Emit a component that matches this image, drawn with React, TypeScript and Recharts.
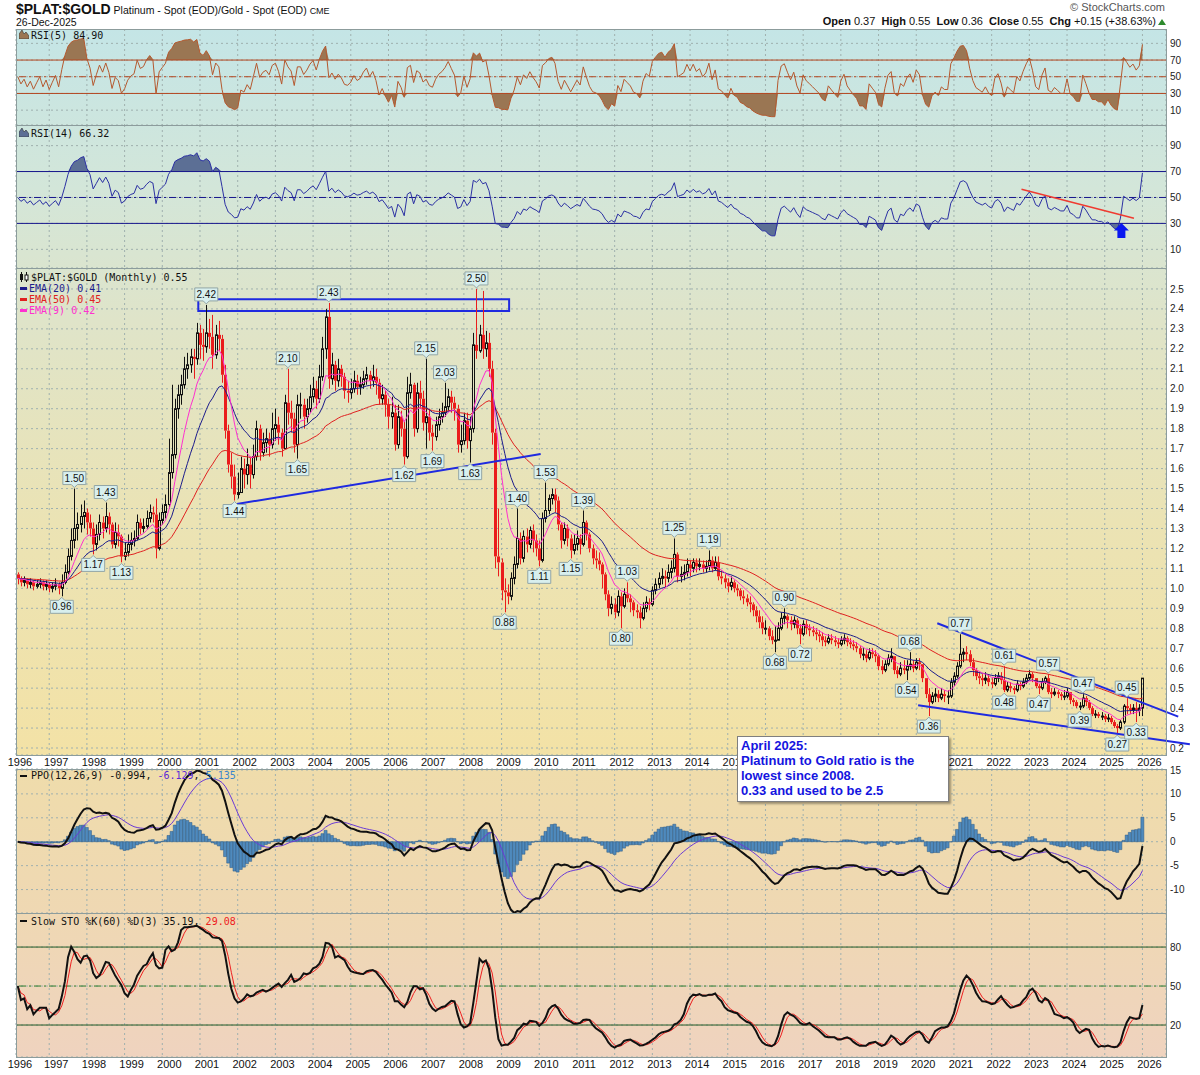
import {
  ComposedChart, Bar, Line, Area, XAxis, YAxis, CartesianGrid,
  ReferenceLine, ReferenceArea, ReferenceDot,
} from 'recharts';

// Monthly ratio, one row per year. 1996 starts in February.
const closesByYear: number[][] = [
  [1.05, 1.03, 1.04, 1.02, 1.03, 1.01, 1.02, 1.03, 1.01, 1.02, 1.00],
  [1.01, 1.02, 1.00, 1.03, 1.08, 1.16, 1.24, 1.30, 1.32, 1.36, 1.38, 1.33],
  [1.30, 1.22, 1.27, 1.33, 1.30, 1.36, 1.32, 1.22, 1.28, 1.26, 1.16, 1.18],
  [1.22, 1.24, 1.25, 1.33, 1.30, 1.31, 1.35, 1.38, 1.37, 1.20, 1.34, 1.38],
  [1.42, 1.58, 1.67, 1.90, 1.97, 2.02, 2.10, 2.12, 2.16, 2.15, 2.28, 2.22],
  [2.21, 2.28, 2.26, 2.17, 2.27, 2.25, 2.07, 1.79, 1.62, 1.56, 1.47, 1.48],
  [1.60, 1.57, 1.62, 1.57, 1.66, 1.80, 1.68, 1.73, 1.75, 1.72, 1.80, 1.82],
  [1.78, 1.70, 1.93, 1.88, 1.85, 1.72, 1.92, 1.92, 1.86, 1.90, 1.96, 2.00],
  [1.95, 2.06, 2.20, 2.36, 2.05, 2.12, 2.04, 2.10, 2.06, 1.99, 1.98, 2.00],
  [2.04, 2.01, 2.02, 2.05, 2.07, 2.04, 2.06, 2.03, 1.95, 1.97, 1.92, 1.86],
  [1.88, 1.72, 1.86, 1.80, 1.66, 1.98, 2.02, 1.80, 1.98, 1.95, 1.83, 1.86],
  [1.78, 1.76, 1.82, 1.86, 1.88, 1.91, 1.96, 1.93, 1.90, 1.72, 1.74, 1.84],
  [1.74, 1.80, 2.22, 2.19, 2.27, 2.20, 2.23, 2.10, 1.78, 1.16, 1.13, 0.99],
  [0.98, 0.96, 1.05, 1.12, 1.25, 1.15, 1.26, 1.22, 1.29, 1.24, 1.20, 1.14],
  [1.35, 1.39, 1.45, 1.47, 1.44, 1.32, 1.24, 1.30, 1.25, 1.19, 1.22, 1.25],
  [1.22, 1.33, 1.27, 1.20, 1.15, 1.14, 1.12, 1.07, 0.97, 0.90, 0.92, 0.88],
  [0.96, 0.91, 0.97, 0.95, 0.93, 0.89, 0.88, 0.85, 0.90, 0.93, 0.92, 0.99],
  [1.02, 1.05, 1.06, 1.05, 1.08, 1.10, 1.17, 1.06, 1.07, 1.08, 1.12, 1.10],
  [1.13, 1.11, 1.12, 1.10, 1.11, 1.14, 1.10, 1.13, 1.06, 1.05, 1.03, 1.01],
  [1.03, 1.00, 0.99, 0.96, 0.95, 0.93, 0.92, 0.89, 0.86, 0.83, 0.80, 0.80],
  [0.76, 0.74, 0.74, 0.80, 0.85, 0.86, 0.84, 0.82, 0.84, 0.80, 0.77, 0.82],
  [0.80, 0.79, 0.78, 0.77, 0.76, 0.74, 0.73, 0.75, 0.74, 0.73, 0.72, 0.74],
  [0.75, 0.73, 0.72, 0.71, 0.70, 0.67, 0.67, 0.65, 0.68, 0.67, 0.66, 0.61],
  [0.59, 0.62, 0.65, 0.66, 0.59, 0.57, 0.60, 0.59, 0.61, 0.62, 0.60, 0.63],
  [0.62, 0.55, 0.47, 0.43, 0.46, 0.47, 0.45, 0.47, 0.46, 0.46, 0.53, 0.56],
  [0.61, 0.67, 0.68, 0.67, 0.63, 0.59, 0.56, 0.55, 0.54, 0.55, 0.53, 0.52],
  [0.55, 0.56, 0.54, 0.49, 0.51, 0.50, 0.49, 0.52, 0.51, 0.53, 0.55, 0.57],
  [0.55, 0.51, 0.50, 0.53, 0.55, 0.48, 0.47, 0.48, 0.47, 0.46, 0.46, 0.48],
  [0.44, 0.43, 0.41, 0.41, 0.45, 0.43, 0.40, 0.37, 0.37, 0.36, 0.36, 0.345],
  [0.35, 0.33, 0.31, 0.30, 0.33, 0.41, 0.40, 0.39, 0.40, 0.39, 0.40, 0.55],
];

const highsByYear: number[][] = [
  [1.08, 1.06, 1.06, 1.05, 1.05, 1.04, 1.04, 1.05, 1.04, 1.04, 1.03],
  [1.03, 1.05, 1.03, 1.07, 1.12, 1.20, 1.30, 1.50, 1.38, 1.42, 1.44, 1.40],
  [1.37, 1.33, 1.32, 1.37, 1.36, 1.43, 1.38, 1.33, 1.33, 1.32, 1.27, 1.23],
  [1.27, 1.28, 1.29, 1.37, 1.35, 1.35, 1.39, 1.42, 1.41, 1.45, 1.38, 1.42],
  [1.47, 1.75, 2.02, 1.95, 2.02, 2.07, 2.16, 2.18, 2.20, 2.20, 2.33, 2.32],
  [2.30, 2.42, 2.35, 2.37, 2.32, 2.34, 2.27, 2.12, 1.82, 1.68, 1.62, 1.58],
  [1.66, 1.65, 1.70, 1.66, 1.72, 1.84, 1.82, 1.78, 1.80, 1.78, 1.88, 1.90],
  [1.86, 1.80, 1.97, 2.10, 1.94, 1.88, 1.97, 1.98, 1.95, 1.95, 2.02, 2.06],
  [2.04, 2.12, 2.26, 2.40, 2.43, 2.18, 2.14, 2.15, 2.12, 2.08, 2.04, 2.05],
  [2.09, 2.07, 2.06, 2.09, 2.11, 2.09, 2.12, 2.10, 2.05, 2.02, 1.99, 1.95],
  [1.96, 1.92, 1.92, 1.89, 1.84, 2.06, 2.08, 2.03, 2.03, 2.04, 1.99, 2.15],
  [1.90, 1.82, 1.86, 1.90, 1.93, 2.03, 2.00, 1.99, 1.96, 1.92, 1.82, 1.88],
  [1.88, 1.86, 2.28, 2.50, 2.32, 2.49, 2.29, 2.28, 2.14, 1.80, 1.40, 1.15],
  [1.05, 1.02, 1.08, 1.16, 1.40, 1.28, 1.29, 1.30, 1.31, 1.32, 1.27, 1.24],
  [1.38, 1.53, 1.47, 1.50, 1.50, 1.46, 1.33, 1.33, 1.32, 1.27, 1.27, 1.29],
  [1.27, 1.39, 1.34, 1.28, 1.22, 1.19, 1.18, 1.13, 1.08, 0.99, 0.96, 0.95],
  [0.99, 0.98, 1.00, 1.03, 0.97, 0.94, 0.92, 0.91, 0.93, 0.96, 0.95, 1.01],
  [1.05, 1.08, 1.10, 1.09, 1.12, 1.14, 1.25, 1.18, 1.11, 1.12, 1.15, 1.14],
  [1.15, 1.15, 1.15, 1.14, 1.14, 1.19, 1.16, 1.16, 1.16, 1.09, 1.07, 1.05],
  [1.06, 1.04, 1.02, 1.00, 0.99, 0.97, 0.96, 0.93, 0.91, 0.89, 0.86, 0.84],
  [0.81, 0.79, 0.81, 0.83, 0.88, 0.90, 0.87, 0.86, 0.86, 0.85, 0.82, 0.84],
  [0.84, 0.82, 0.81, 0.80, 0.79, 0.78, 0.76, 0.77, 0.77, 0.76, 0.75, 0.76],
  [0.77, 0.76, 0.75, 0.74, 0.73, 0.71, 0.70, 0.69, 0.70, 0.70, 0.69, 0.67],
  [0.64, 0.64, 0.67, 0.70, 0.66, 0.61, 0.63, 0.64, 0.64, 0.68, 0.64, 0.65],
  [0.65, 0.62, 0.55, 0.50, 0.48, 0.50, 0.49, 0.50, 0.49, 0.49, 0.55, 0.58],
  [0.63, 0.77, 0.70, 0.71, 0.69, 0.65, 0.60, 0.58, 0.57, 0.58, 0.57, 0.55],
  [0.57, 0.58, 0.58, 0.61, 0.53, 0.53, 0.51, 0.54, 0.53, 0.55, 0.57, 0.59],
  [0.58, 0.55, 0.52, 0.55, 0.56, 0.57, 0.50, 0.50, 0.49, 0.48, 0.49, 0.50],
  [0.48, 0.45, 0.44, 0.43, 0.47, 0.46, 0.44, 0.41, 0.39, 0.38, 0.38, 0.37],
  [0.37, 0.36, 0.34, 0.32, 0.34, 0.42, 0.45, 0.42, 0.42, 0.43, 0.42, 0.55],
];

const lowsByYear: number[][] = [
  [1.02, 1.01, 1.01, 1.00, 1.00, 0.99, 1.00, 1.00, 0.99, 0.99, 0.98],
  [0.98, 0.99, 0.97, 0.96, 1.02, 1.07, 1.14, 1.20, 1.24, 1.28, 1.30, 1.27],
  [1.26, 1.17, 1.19, 1.24, 1.25, 1.28, 1.27, 1.20, 1.20, 1.21, 1.13, 1.14],
  [1.16, 1.19, 1.21, 1.24, 1.27, 1.28, 1.30, 1.33, 1.33, 1.15, 1.19, 1.32],
  [1.35, 1.40, 1.55, 1.65, 1.85, 1.92, 2.00, 2.05, 2.08, 2.05, 2.12, 2.15],
  [2.14, 2.18, 2.20, 2.10, 2.15, 2.19, 2.03, 1.75, 1.58, 1.50, 1.44, 1.45],
  [1.48, 1.50, 1.52, 1.50, 1.55, 1.64, 1.64, 1.66, 1.68, 1.66, 1.70, 1.74],
  [1.72, 1.66, 1.70, 1.82, 1.78, 1.68, 1.65, 1.85, 1.80, 1.83, 1.88, 1.93],
  [1.90, 1.93, 2.04, 2.15, 2.00, 2.02, 1.99, 2.01, 2.01, 1.95, 1.93, 1.95],
  [1.98, 1.97, 1.97, 2.00, 2.02, 2.00, 2.01, 1.97, 1.92, 1.92, 1.86, 1.80],
  [1.80, 1.69, 1.70, 1.76, 1.62, 1.65, 1.95, 1.76, 1.78, 1.90, 1.79, 1.70],
  [1.74, 1.69, 1.74, 1.79, 1.83, 1.86, 1.89, 1.88, 1.84, 1.68, 1.68, 1.72],
  [1.70, 1.63, 1.78, 2.15, 2.18, 2.15, 2.16, 2.06, 1.72, 1.10, 1.06, 0.94],
  [0.88, 0.92, 0.94, 1.02, 1.10, 1.12, 1.13, 1.18, 1.20, 1.18, 1.16, 1.11],
  [1.13, 1.33, 1.37, 1.42, 1.38, 1.29, 1.20, 1.22, 1.21, 1.15, 1.17, 1.19],
  [1.17, 1.21, 1.24, 1.18, 1.12, 1.10, 1.09, 1.00, 0.94, 0.86, 0.87, 0.85],
  [0.86, 0.80, 0.90, 0.93, 0.88, 0.86, 0.85, 0.80, 0.84, 0.88, 0.89, 0.91],
  [0.97, 1.00, 1.02, 1.00, 1.03, 1.05, 1.08, 1.03, 1.03, 1.04, 1.06, 1.06],
  [1.08, 1.08, 1.09, 1.08, 1.08, 1.09, 1.08, 1.09, 1.04, 1.02, 1.00, 0.98],
  [0.99, 0.98, 0.96, 0.94, 0.92, 0.91, 0.88, 0.86, 0.83, 0.80, 0.77, 0.77],
  [0.74, 0.72, 0.68, 0.74, 0.79, 0.82, 0.80, 0.79, 0.80, 0.77, 0.72, 0.76],
  [0.77, 0.76, 0.76, 0.74, 0.73, 0.71, 0.71, 0.72, 0.72, 0.71, 0.70, 0.71],
  [0.72, 0.71, 0.70, 0.69, 0.68, 0.65, 0.64, 0.63, 0.64, 0.65, 0.63, 0.59],
  [0.57, 0.58, 0.61, 0.63, 0.57, 0.55, 0.56, 0.57, 0.54, 0.59, 0.58, 0.59],
  [0.59, 0.53, 0.45, 0.36, 0.42, 0.43, 0.43, 0.44, 0.43, 0.42, 0.45, 0.51],
  [0.55, 0.60, 0.63, 0.64, 0.61, 0.56, 0.54, 0.52, 0.51, 0.52, 0.51, 0.50],
  [0.51, 0.53, 0.52, 0.48, 0.48, 0.48, 0.47, 0.48, 0.49, 0.50, 0.52, 0.54],
  [0.53, 0.50, 0.47, 0.49, 0.52, 0.47, 0.45, 0.46, 0.45, 0.44, 0.44, 0.45],
  [0.42, 0.41, 0.40, 0.39, 0.40, 0.41, 0.39, 0.36, 0.35, 0.35, 0.34, 0.33],
  [0.33, 0.32, 0.30, 0.27, 0.29, 0.32, 0.37, 0.37, 0.37, 0.33, 0.36, 0.36],
];

const FIRST_OPEN = 1.07;
const FIRST_MONTH = 2; // Feb 1996, counting Jan 1996 as month 1

// price callouts [month, value]
const highCallouts: [number, number][] = [
  [20, 1.50], [30, 1.43], [62, 2.42], [88, 2.10], [101, 2.43], [132, 2.15], [138, 2.03],
  [148, 2.50], [161, 1.40], [170, 1.53], [182, 1.39], [196, 1.03], [211, 1.25], [222, 1.19],
  [246, 0.90], [286, 0.68], [302, 0.77], [316, 0.61], [330, 0.57], [341, 0.47], [355, 0.45],
];
const lowCallouts: [number, number][] = [
  [16, 0.96], [26, 1.17], [35, 1.13], [71, 1.44], [91, 1.65], [125, 1.62], [134, 1.69],
  [146, 1.63], [157, 0.88], [168, 1.11], [178, 1.15], [194, 0.80], [243, 0.68], [251, 0.72],
  [285, 0.54], [292, 0.36], [316, 0.48], [327, 0.47], [340, 0.39], [352, 0.27], [358, 0.33],
];

const yearTicks = [1.43, 12, 24, 36, 48, 60, 72, 84, 96, 108, 120, 132, 144, 156, 168, 180,
  192, 204, 216, 228, 240, 252, 264, 276, 288, 300, 312, 324, 336, 348, 360];
const yearLabels = ['1996', '1997', '1998', '1999', '2000', '2001', '2002', '2003', '2004', '2005',
  '2006', '2007', '2008', '2009', '2010', '2011', '2012', '2013', '2014', '2015', '2016', '2017',
  '2018', '2019', '2020', '2021', '2022', '2023', '2024', '2025', '2026'];
const priceTicks = [0.2, 0.3, 0.4, 0.5, 0.6, 0.7, 0.8, 0.9, 1.0, 1.1, 1.2, 1.3, 1.4, 1.5, 1.6,
  1.7, 1.8, 1.9, 2.0, 2.1, 2.2, 2.3, 2.4, 2.5];
const rsiTicks = [10, 30, 50, 70, 90];
const ppoTicks = [-10, -5, 0, 5, 10, 15];
const stoTicks = [20, 50, 80];

const X_DOMAIN: [number, number] = [1.43, 367.5];

// ---- indicators ----
const ema = (src: number[], n: number) => {
  const k = 2 / (n + 1);
  let prev = src[0];
  return src.map((v, i) => (i === 0 ? v : (prev = v * k + prev * (1 - k))));
};
const sma = (src: number[], n: number) =>
  src.map((_, i) => {
    const s = src.slice(Math.max(0, i - n + 1), i + 1);
    return s.reduce((a, b) => a + b, 0) / s.length;
  });
// Wilder RSI, warmed up from a neutral state
const rsi = (src: number[], n: number) => {
  let ag = 0.012;
  let al = 0.012;
  return src.map((v, i) => {
    if (i === 0) return 50;
    const ch = v - src[i - 1];
    ag = (ag * (n - 1) + Math.max(ch, 0)) / n;
    al = (al * (n - 1) + Math.max(-ch, 0)) / n;
    return al === 0 ? 100 : 100 - 100 / (1 + ag / al);
  });
};

const closes = closesByYear.flat();
const highs = highsByYear.flat();
const lows = lowsByYear.flat();

const e9 = ema(closes, 9);
const e20 = ema(closes, 20);
const e50 = ema(closes, 50);
const r5 = rsi(closes, 5);
const r14 = rsi(closes, 14);
const e12 = ema(closes, 12);
const e26 = ema(closes, 26);
const ppo = closes.map((_, i) => ((e12[i] - e26[i]) / e26[i]) * 100);
const sig = ema(ppo, 9);
const fastK = closes.map((c, i) => {
  const from = Math.max(0, i - 59);
  const hh = Math.max(...highs.slice(from, i + 1));
  const ll = Math.min(...lows.slice(from, i + 1));
  return hh === ll ? 50 : ((c - ll) / (hh - ll)) * 100;
});
const slowK = sma(fastK, 3);
const slowD = sma(slowK, 3);

const rows = closes.map((c, i) => {
  const o = i === 0 ? FIRST_OPEN : closes[i - 1];
  const h = Math.max(highs[i], o, c);
  const l = Math.min(lows[i], o, c);
  return {
    p: FIRST_MONTH + i, o, c, h, l, range: [l, h],
    ema9: e9[i], ema20: e20[i], ema50: e50[i],
    rsi5: r5[i], rsi5Hi: [70, Math.max(70, r5[i])], rsi5Lo: [Math.min(30, r5[i]), 30],
    rsi14: r14[i], rsi14Hi: [70, Math.max(70, r14[i])], rsi14Lo: [Math.min(30, r14[i]), 30],
    ppo: ppo[i], sig: sig[i], hist: ppo[i] - sig[i],
    k: slowK[i], d: slowD[i],
  };
});

// ---- styling ----
const FONT = '"Liberation Sans", Arial, sans-serif';
const MONO = '"DejaVu Sans Mono", monospace';
const GRID = '#9fb0ae';
const BLUE = '#1f2ae0';
const MARGIN = { top: 0, right: 0, bottom: 0, left: 16 };
const TICK = { fontSize: 10, fill: '#222', fontFamily: FONT };
const NOTE_BOX = { left: 737, top: 736, width: 212, height: 66 };

const Candle = (props: any) => {
  const { x, y, width, height, payload } = props;
  if (x == null || !payload) return null;
  const top = Math.min(y, y + height);
  const span = Math.abs(height);
  const { o, c, h, l } = payload;
  const toY = (v: number) => (h === l ? top : top + ((h - v) / (h - l)) * span);
  const mid = Math.round(x + width / 2) + 0.5;
  const up = c >= o;
  const color = up ? '#111' : '#ea1c1c';
  const bTop = toY(Math.max(o, c));
  const bh = Math.max(toY(Math.min(o, c)) - bTop, 1);
  return (
    <g>
      <line x1={mid} x2={mid} y1={top} y2={bTop} stroke={color} strokeWidth={1} />
      <line x1={mid} x2={mid} y1={bTop + bh} y2={top + span} stroke={color} strokeWidth={1} />
      {up ? (
        <rect x={mid - 1} y={bTop} width={2} height={bh} fill="none" stroke={color} strokeWidth={1} />
      ) : (
        <rect x={mid - 1.5} y={bTop} width={3} height={bh} fill={color} />
      )}
    </g>
  );
};

const Callout = ({ cx, cy, text, above }: any) => {
  if (cx == null) return null;
  const w = 23;
  const h = 13;
  const x0 = cx - w / 2;
  const x1 = cx + w / 2;
  let d;
  let ty;
  if (above) {
    const b = cy - 4;
    const t = b - h;
    d = `M${x0},${t} L${x1},${t} L${x1},${b} L${cx + 3},${b} L${cx},${cy - 1} L${cx - 3},${b} L${x0},${b} Z`;
    ty = b - 3;
  } else {
    const t = cy + 4;
    const b = t + h;
    d = `M${x0},${t} L${cx - 3},${t} L${cx},${cy + 1} L${cx + 3},${t} L${x1},${t} L${x1},${b} L${x0},${b} Z`;
    ty = b - 3;
  }
  return (
    <g>
      <path d={d} fill="#d8efee" stroke="#93a6a6" strokeWidth={1} />
      <text x={cx} y={ty} textAnchor="middle" fontSize={10} fontFamily={FONT} fill="#111">{text}</text>
    </g>
  );
};

const UpArrow = ({ cx, cy }: any) => {
  if (cx == null) return null;
  const pts = [
    [cx, cy], [cx + 7.5, cy + 7.5], [cx + 4, cy + 7.5], [cx + 4, cy + 15],
    [cx - 4, cy + 15], [cx - 4, cy + 7.5], [cx - 7.5, cy + 7.5],
  ].map((q) => q.join(',')).join(' ');
  return <polygon points={pts} fill="#0a18f0" />;
};

// year label just right of the January gridline; labels under the note box are covered in the original
const YearTick = (props: any) => {
  const { x, y, index, underNote } = props;
  const first = index === 0;
  const cx = first ? x + 4 : x + 7;
  if (underNote && cx > NOTE_BOX.left + 8 && cx < NOTE_BOX.left + NOTE_BOX.width) return null;
  return (
    <text x={cx} y={y + 11} textAnchor="middle" fontSize={11} fontFamily={FONT} fill="#111">
      {yearLabels[index]}
    </text>
  );
};

const hiddenX = (
  <XAxis dataKey="p" type="number" domain={X_DOMAIN} allowDataOverflow ticks={yearTicks} hide />
);

const Frame = ({ top, height }: { top: number; height: number }) => (
  <div style={{
    position: 'absolute', left: 16, top, width: 1151, height: height + 1,
    border: '1px solid #8c9c9c', boxSizing: 'border-box', pointerEvents: 'none',
  }} />
);

const Legend = ({ top, left = 31, children }: any) => (
  <div style={{
    position: 'absolute', left, top, fontFamily: MONO, fontSize: 10, lineHeight: '11px',
    whiteSpace: 'pre', color: '#111',
  }}>{children}</div>
);

const Dash = ({ top, color, h = 2 }: any) => (
  <div style={{ position: 'absolute', left: 20, top, width: 7, height: h, background: color }} />
);

const MountainIcon = ({ top, fill }: any) => (
  <svg style={{ position: 'absolute', left: 19, top }} width={10} height={9}>
    <polygon points="0,9 0,4 3,0 5,4 7,2 10,6 10,9" fill={fill} stroke="#333" strokeWidth={0.6} />
  </svg>
);

export default function App() {
  return (
    <div style={{ position: 'absolute', left: 0, top: 0, width: 1200, height: 1075, background: '#fff', overflow: 'hidden', fontFamily: FONT }}>
      {/* panel backgrounds */}
      <div style={{
        position: 'absolute', left: 16, top: 29, width: 1150, height: 726,
        background: 'linear-gradient(to bottom, #c4e5e6 0%, #d3e6d9 22%, #dfe4c9 40%, #ebe3b4 68%, #f3e2a6 100%)',
      }} />
      <div style={{
        position: 'absolute', left: 16, top: 769, width: 1150, height: 288,
        background: 'linear-gradient(to bottom, #efdcab 0%, #efd8b3 50%, #efd3bf 100%)',
      }} />

      {/* header */}
      <div style={{ position: 'absolute', left: 16, top: 0, whiteSpace: 'pre', color: '#111' }}>
        <span style={{ fontSize: 14, fontWeight: 'bold' }}>$PLAT:$GOLD</span>
        <span style={{ fontSize: 10.5 }}> Platinum - Spot (EOD)/Gold - Spot (EOD) </span>
        <span style={{ fontSize: 9 }}>CME</span>
      </div>
      <div style={{ position: 'absolute', left: 16, top: 16, fontSize: 10.5, color: '#111' }}>26-Dec-2025</div>
      <div style={{ position: 'absolute', left: 0, width: 1165, top: 1, textAlign: 'right', fontSize: 11, color: '#555' }}>
        © StockCharts.com
      </div>
      <div style={{ position: 'absolute', left: 0, width: 1156, top: 15, textAlign: 'right', fontSize: 11, color: '#111', whiteSpace: 'pre' }}>
        <b>Open</b> 0.37  <b>High</b> 0.55  <b>Low</b> 0.36  <b>Close</b> 0.55  <b>Chg</b> +0.15 (+38.63%)
      </div>
      <svg style={{ position: 'absolute', left: 1158, top: 19 }} width={8} height={6}>
        <polygon points="0,6 4,0 8,6" fill="#2e8b2e" />
      </svg>

      {/* RSI(5) */}
      <div style={{ position: 'absolute', left: 0, top: 29 }}>
        <ComposedChart width={1200} height={96} data={rows} margin={MARGIN}>
          <CartesianGrid stroke={GRID} strokeDasharray="2 3" />
          {hiddenX}
          <YAxis orientation="right" width={34} domain={[-7.8, 107.2]} allowDataOverflow ticks={rsiTicks}
            interval={0} tickLine={false} axisLine={false} tickSize={0} tickMargin={4} tick={TICK} />
          <Area dataKey="rsi5Hi" stroke="none" fill="#9a7653" fillOpacity={1} isAnimationActive={false} />
          <Area dataKey="rsi5Lo" stroke="none" fill="#9a7653" fillOpacity={1} isAnimationActive={false} />
          <ReferenceLine y={70} stroke="#b3461f" />
          <ReferenceLine y={30} stroke="#b3461f" />
          <ReferenceLine y={50} stroke="#b3461f" strokeDasharray="7 3 2 3" />
          <Line dataKey="rsi5" stroke="#b5592f" strokeWidth={1} dot={false} isAnimationActive={false} />
        </ComposedChart>
      </div>

      {/* RSI(14) */}
      <div style={{ position: 'absolute', left: 0, top: 125 }}>
        <ComposedChart width={1200} height={143} data={rows} margin={MARGIN}>
          <CartesianGrid stroke={GRID} strokeDasharray="2 3" />
          {hiddenX}
          <YAxis orientation="right" width={34} domain={[-4.4, 105.9]} allowDataOverflow ticks={rsiTicks}
            interval={0} tickLine={false} axisLine={false} tickSize={0} tickMargin={4} tick={TICK} />
          <Area dataKey="rsi14Hi" stroke="none" fill="#5c6f95" fillOpacity={1} isAnimationActive={false} />
          <Area dataKey="rsi14Lo" stroke="none" fill="#5c6f95" fillOpacity={1} isAnimationActive={false} />
          <ReferenceLine y={70} stroke="#16168c" />
          <ReferenceLine y={30} stroke="#16168c" />
          <ReferenceLine y={50} stroke="#16168c" strokeDasharray="7 3 2 3" />
          <Line dataKey="rsi14" stroke="#2b30a3" strokeWidth={1} dot={false} isAnimationActive={false} />
          <ReferenceLine segment={[{ x: 321.5, y: 56.4 }, { x: 357.3, y: 34.0 }]} stroke="#f03a30" strokeWidth={1.5} />
          <ReferenceDot x={353.3} y={30.3} r={0} shape={(s: any) => <UpArrow cx={s.cx} cy={s.cy} />} />
        </ComposedChart>
      </div>

      {/* price */}
      <div style={{ position: 'absolute', left: 0, top: 268 }}>
        <ComposedChart width={1200} height={501} data={rows} margin={MARGIN}>
          <CartesianGrid stroke={GRID} strokeDasharray="2 3" />
          <XAxis dataKey="p" type="number" domain={X_DOMAIN} allowDataOverflow ticks={yearTicks} interval={0}
            height={14} tickLine={false} axisLine={false} tickSize={0} tickMargin={0} tick={<YearTick underNote />} />
          <YAxis orientation="right" width={34} domain={[0.165, 2.605]} allowDataOverflow ticks={priceTicks}
            interval={0} tickLine={false} axisLine={false} tickSize={0} tickMargin={4} tick={TICK}
            tickFormatter={(v: number) => v.toFixed(1)} />
          <Line dataKey="ema50" stroke="#e02020" strokeWidth={1} dot={false} isAnimationActive={false} />
          <Line dataKey="ema20" stroke="#1c1c8c" strokeWidth={1} dot={false} isAnimationActive={false} />
          <Line dataKey="ema9" stroke="#ff30d0" strokeWidth={1} dot={false} isAnimationActive={false} />
          <Bar dataKey="range" barSize={3} isAnimationActive={false} shape={(s: any) => <Candle {...s} />} />
          <ReferenceArea x1={59.46} x2={158.4} y1={2.39} y2={2.448} fill="none" stroke={BLUE} strokeWidth={2} ifOverflow="visible" />
          <ReferenceLine segment={[{ x: 67.96, y: 1.413 }, { x: 168.45, y: 1.673 }]} stroke={BLUE} strokeWidth={2} ifOverflow="visible" />
          <ReferenceLine segment={[{ x: 294.7, y: 0.825 }, { x: 371.4, y: 0.357 }]} stroke={BLUE} strokeWidth={2} ifOverflow="visible" />
          <ReferenceLine segment={[{ x: 288.6, y: 0.414 }, { x: 375.1, y: 0.219 }]} stroke={BLUE} strokeWidth={2} ifOverflow="visible" />
          {highCallouts.map(([p, v]) => (
            <ReferenceDot key={'h' + p} x={p} y={v} r={0} ifOverflow="visible"
              shape={(s: any) => <Callout cx={s.cx} cy={s.cy} text={v.toFixed(2)} above />} />
          ))}
          {lowCallouts.map(([p, v]) => (
            <ReferenceDot key={'l' + p} x={p} y={v} r={0} ifOverflow="visible"
              shape={(s: any) => <Callout cx={s.cx} cy={s.cy} text={v.toFixed(2)} />} />
          ))}
        </ComposedChart>
      </div>

      {/* PPO (svg starts above the panel so the top tick label is not cut) */}
      <div style={{ position: 'absolute', left: 0, top: 755 }}>
        <ComposedChart width={1200} height={158} data={rows} margin={{ ...MARGIN, top: 14 }}>
          <CartesianGrid stroke={GRID} strokeDasharray="2 3" />
          {hiddenX}
          <YAxis orientation="right" width={34} domain={[-14.9, 15.2]} allowDataOverflow ticks={ppoTicks}
            interval={0} tickLine={false} axisLine={false} tickSize={0} tickMargin={4} tick={TICK} />
          <Bar dataKey="hist" barSize={3} fill="#4f8abd" stroke="#2a5885" strokeWidth={0.5} isAnimationActive={false} />
          <Line dataKey="sig" stroke="#6a3ad6" strokeWidth={1} dot={false} isAnimationActive={false} />
          <Line dataKey="ppo" stroke="#111" strokeWidth={2} dot={false} isAnimationActive={false} />
        </ComposedChart>
      </div>

      {/* Slow STO */}
      <div style={{ position: 'absolute', left: 0, top: 913 }}>
        <ComposedChart width={1200} height={162} data={rows} margin={MARGIN}>
          <CartesianGrid stroke={GRID} strokeDasharray="2 3" />
          <XAxis dataKey="p" type="number" domain={X_DOMAIN} allowDataOverflow ticks={yearTicks} interval={0}
            height={18} tickLine={false} axisLine={false} tickSize={0} tickMargin={0} tick={<YearTick />} />
          <YAxis orientation="right" width={34} domain={[-4.6, 106.2]} allowDataOverflow ticks={stoTicks}
            interval={0} tickLine={false} axisLine={false} tickSize={0} tickMargin={4} tick={TICK} />
          <ReferenceLine y={80} stroke="#245a24" />
          <ReferenceLine y={20} stroke="#245a24" />
          <ReferenceLine y={50} stroke="#2a7a2a" strokeDasharray="7 3 2 3" />
          <Line dataKey="d" stroke="#ee2020" strokeWidth={1} dot={false} isAnimationActive={false} />
          <Line dataKey="k" stroke="#111" strokeWidth={2} dot={false} isAnimationActive={false} />
        </ComposedChart>
      </div>

      {/* panel frames */}
      <Frame top={29} height={96} />
      <Frame top={125} height={143} />
      <Frame top={268} height={487} />
      <Frame top={769} height={144} />
      <Frame top={913} height={144} />

      {/* legends */}
      <MountainIcon top={30} fill="#9a7653" />
      <Legend top={29.5}>RSI(5) 84.90</Legend>
      <MountainIcon top={128} fill="#5c6f95" />
      <Legend top={127.5}>RSI(14) 66.32</Legend>
      <svg style={{ position: 'absolute', left: 19, top: 272 }} width={11} height={10}>
        <line x1={2.5} x2={2.5} y1={0} y2={10} stroke="#111" />
        <rect x={1} y={2} width={3} height={6} fill="#111" />
        <line x1={7.5} x2={7.5} y1={0} y2={10} stroke="#111" />
        <rect x={6} y={3} width={3} height={5} fill="#fff" stroke="#111" />
      </svg>
      <Legend top={271.5}>$PLAT:$GOLD (Monthly) 0.55</Legend>
      <Dash top={287} color="#1c1c8c" h={3} />
      <Legend top={282.5} left={29}><span style={{ color: '#1c1c8c' }}>EMA(20) 0.41</span></Legend>
      <Dash top={298} color="#e02020" h={3} />
      <Legend top={293.5} left={29}><span style={{ color: '#e02020' }}>EMA(50) 0.45</span></Legend>
      <Dash top={309} color="#ff30d0" h={3} />
      <Legend top={304.5} left={29}><span style={{ color: '#ff30d0' }}>EMA(9) 0.42</span></Legend>
      <Dash top={775} color="#111" />
      <Legend top={770}>PPO(12,26,9) -0.994,<span style={{ color: '#5a2ad6' }}> -6.129</span>,<span style={{ color: '#3b87cf' }}> 5.135</span></Legend>
      <Dash top={920} color="#111" />
      <Legend top={915.5}>Slow STO %K(60) %D(3) 35.19, <span style={{ color: '#ee2020' }}>29.08</span></Legend>

      {/* annotation */}
      <div style={{
        position: 'absolute', ...NOTE_BOX, boxSizing: 'border-box',
        background: '#fff', border: '1px solid #7f7f7f', boxShadow: '2px 2px 2px rgba(0,0,0,0.35)',
        padding: '1px 0 0 3px', color: '#1414e0', fontWeight: 'bold', fontSize: 13, lineHeight: '15px',
        fontFamily: FONT,
      }}>
        <div>April 2025:</div>
        <div>Platinum to Gold ratio is the</div>
        <div>lowest since 2008.</div>
        <div>0.33 and used to be 2.5</div>
      </div>
    </div>
  );
}
